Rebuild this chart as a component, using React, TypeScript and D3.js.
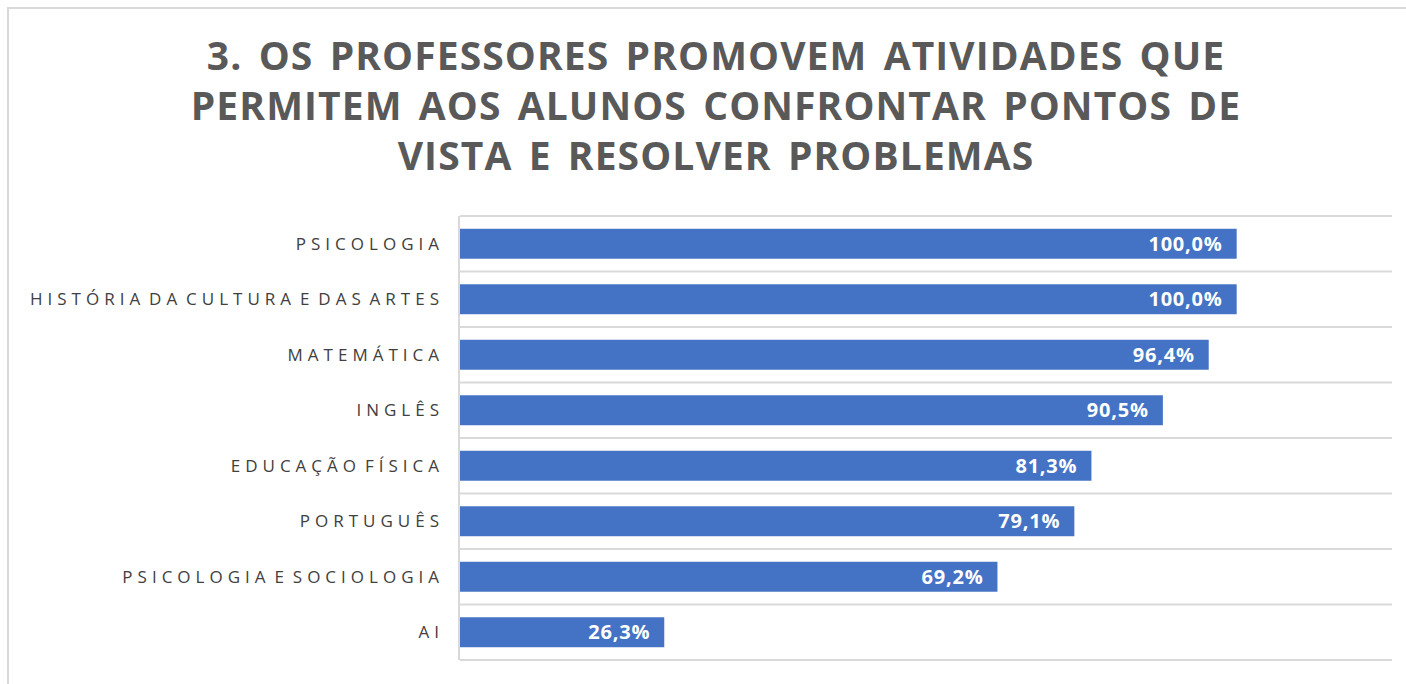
import React, { useEffect, useRef } from 'react'
import * as d3 from 'd3'

const categories = [
  'PSICOLOGIA',
  'HISTÓRIA DA CULTURA E DAS ARTES',
  'MATEMÁTICA',
  'INGLÊS',
  'EDUCAÇÃO FÍSICA',
  'PORTUGUÊS',
  'PSICOLOGIA E SOCIOLOGIA',
  'AI',
]
const percents = [100.0, 100.0, 96.4, 90.5, 81.3, 79.1, 69.2, 26.3]
const xTicks = [0, 20, 40, 60, 80, 100, 120]
const titleLines = [
  '3. OS PROFESSORES PROMOVEM ATIVIDADES QUE',
  'PERMITEM AOS ALUNOS CONFRONTAR PONTOS DE',
  'VISTA E RESOLVER PROBLEMAS',
]

const W = 1406
const H = 684

export default function App() {
  const ref = useRef<SVGSVGElement>(null)

  useEffect(() => {
    const svg = d3.select(ref.current)
    svg.selectAll('*').remove()

    const margin = { top: 216, right: 14, bottom: 24, left: 460 }
    const width = W - margin.left - margin.right
    const height = H - margin.top - margin.bottom

    // outer chart frame (right/bottom edges fall off the picture)
    svg.append('rect')
      .attr('x', 8).attr('y', 8)
      .attr('width', W + 20).attr('height', H + 20)
      .attr('fill', '#fff')
      .attr('stroke', '#d9d9d9')
      .attr('stroke-width', 2)

    // title
    const title = svg.append('text')
      .attr('text-anchor', 'middle')
      .attr('font-family', '"Open Sans", sans-serif')
      .attr('font-weight', 'bold')
      .attr('font-size', 39)
      .attr('letter-spacing', 1.1)
      .attr('word-spacing', 5)
      .attr('fill', '#595959')
    titleLines.forEach((t, i) => {
      title.append('tspan').attr('x', 716).attr('y', 70 + i * 50).text(t)
    })

    const x = d3.scaleLinear()
      .domain([0, d3.max(xTicks) as number])
      .range([0, width])
    const y = d3.scaleBand()
      .domain(categories)
      .range([0, height])
      .paddingInner(0.46)
      .paddingOuter(0.23)

    const g = svg.append('g')
      .attr('transform', 'translate(' + margin.left + ',' + margin.top + ')')

    // gridlines between categories
    const step = y.step()
    const bounds = d3.range(categories.length + 1).map(i => i * step)
    g.selectAll('.grid')
      .data(bounds)
      .enter().append('line')
      .attr('x1', 0).attr('x2', width)
      .attr('y1', d => d).attr('y2', d => d)
      .attr('stroke', '#d9d9d9')
      .attr('stroke-width', 2)

    g.append('line')
      .attr('x1', -1).attr('x2', -1)
      .attr('y1', 0).attr('y2', height)
      .attr('stroke', '#d9d9d9')
      .attr('stroke-width', 2)

    g.selectAll('.bar')
      .data(percents)
      .enter().append('rect')
      .attr('x', 0)
      .attr('y', (d, i) => y(categories[i]) as number)
      .attr('width', d => x(d))
      .attr('height', y.bandwidth())
      .attr('fill', '#4472c4')

    g.selectAll('.val')
      .data(percents)
      .enter().append('text')
      .attr('x', d => x(d) - 14)
      .attr('y', (d, i) => (y(categories[i]) as number) + y.bandwidth() / 2)
      .attr('dy', '0.36em')
      .attr('text-anchor', 'end')
      .attr('font-family', '"Open Sans", sans-serif')
      .attr('font-weight', 'bold')
      .attr('font-size', 20)
      .attr('letter-spacing', 0.8)
      .attr('fill', '#fff')
      .text(d => d3.format('.1f')(d).replace('.', ',') + '%')

    g.selectAll('.cat')
      .data(categories)
      .enter().append('text')
      .attr('x', -16)
      .attr('y', d => (y(d) as number) + y.bandwidth() / 2)
      .attr('dy', '0.36em')
      .attr('text-anchor', 'end')
      .attr('font-family', '"Open Sans", sans-serif')
      .attr('font-size', 17)
      .attr('letter-spacing', 5)
      .attr('word-spacing', -5.5)
      .attr('fill', '#404040')
      .text(d => d)
  }, [])

  return (
    <div style={{ position: 'absolute', left: 0, top: 0 }}>
      <svg ref={ref} width={W} height={H} style={{ display: 'block' }}></svg>
    </div>
  )
}
